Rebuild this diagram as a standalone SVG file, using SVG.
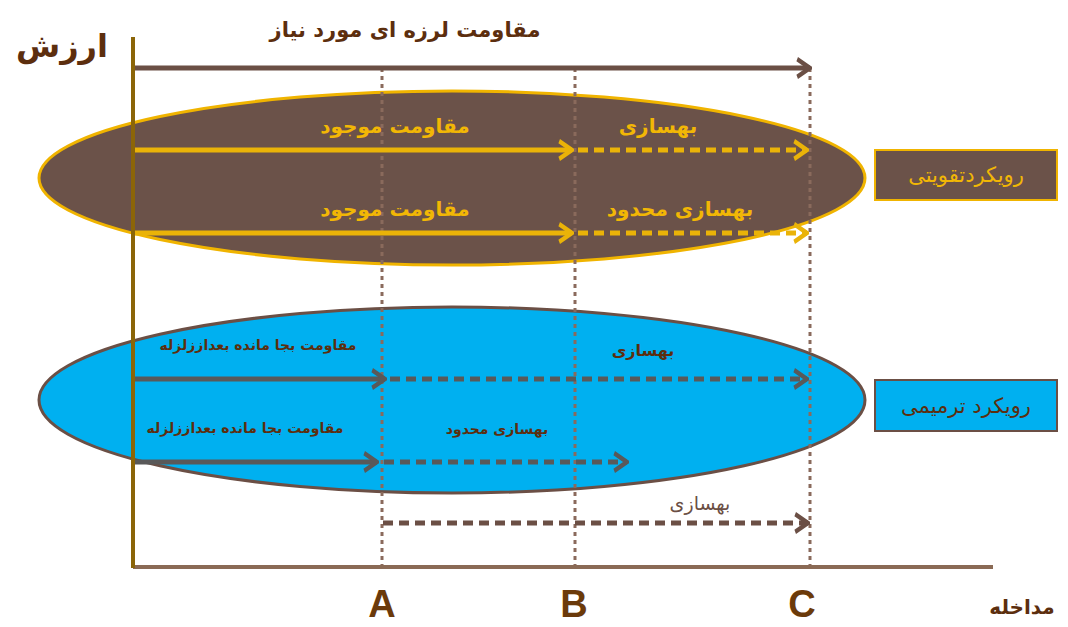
<svg xmlns="http://www.w3.org/2000/svg" width="1068" height="627" viewBox="0 0 1068 627">
<style>
.fa{font-family:"DejaVu Sans","Noto Sans CJK SC",sans-serif;text-anchor:middle}
.b{font-weight:bold}
.gold{fill:#f2b705}
.dk{fill:#5c2e0e}
.grid{stroke:#8a6a5c;stroke-width:3;stroke-dasharray:4 4;fill:none}
.ga{stroke:#eab308;stroke-width:5;fill:none}
.gd{stroke:#eab308;stroke-width:5;fill:none;stroke-dasharray:10 6}
.sa{stroke:#595959;stroke-width:5;fill:none}
.sd{stroke:#595959;stroke-width:5;fill:none;stroke-dasharray:10 6}
.ba{stroke:#6b4f45;stroke-width:5;fill:none}
.bd{stroke:#6b4f45;stroke-width:5;fill:none;stroke-dasharray:10 6}
.lat{font-family:"Liberation Sans",sans-serif;font-weight:bold;font-size:38px;fill:#6b3a0a;text-anchor:middle}
</style>
<defs>
<marker id="mg" viewBox="0 0 10 10" refX="9" refY="5" markerWidth="3.2" markerHeight="4.4" orient="auto" markerUnits="strokeWidth" preserveAspectRatio="none"><path d="M1,1 L9,5 L1,9" fill="none" stroke="#eab308" stroke-width="2.2"/></marker>
<marker id="ms" viewBox="0 0 10 10" refX="9" refY="5" markerWidth="3.2" markerHeight="4.4" orient="auto" markerUnits="strokeWidth" preserveAspectRatio="none"><path d="M1,1 L9,5 L1,9" fill="none" stroke="#595959" stroke-width="2.2"/></marker>
<marker id="mb" viewBox="0 0 10 10" refX="9" refY="5" markerWidth="3.2" markerHeight="4.4" orient="auto" markerUnits="strokeWidth" preserveAspectRatio="none"><path d="M1,1 L9,5 L1,9" fill="none" stroke="#6b4f45" stroke-width="2.2"/></marker>
</defs>

<g id="ellipse-taghviati">
<ellipse cx="452" cy="178" rx="413" ry="87" fill="#6b5249" stroke="#f0b400" stroke-width="3"/>
</g>
<g id="ellipse-tarmimi">
<ellipse cx="452" cy="400" rx="413" ry="93" fill="#00b0f0" stroke="#6b4f45" stroke-width="3"/>
</g>

<g id="grid">
<line class="grid" x1="382" y1="68" x2="382" y2="566"/>
<line class="grid" x1="575" y1="68" x2="575" y2="566"/>
<line class="grid" x1="810" y1="68" x2="810" y2="566"/>
</g>

<g id="axes">
<line x1="133" y1="567" x2="993" y2="567" stroke="#8a6a55" stroke-width="4"/>
<line x1="133" y1="37" x2="133" y2="568" stroke="#8b6508" stroke-width="4"/>
</g>

<g id="connectors">
<line class="ba" x1="135" y1="68" x2="810" y2="68" marker-end="url(#mb)"/>
<line class="ga" x1="135" y1="150" x2="572" y2="150" marker-end="url(#mg)"/>
<line class="gd" x1="578" y1="150" x2="807" y2="150" marker-end="url(#mg)"/>
<line class="ga" x1="135" y1="233" x2="572" y2="233" marker-end="url(#mg)"/>
<line class="gd" x1="578" y1="233" x2="807" y2="233" marker-end="url(#mg)"/>
<line class="sa" x1="135" y1="379" x2="385" y2="379" marker-end="url(#ms)"/>
<line class="sd" x1="390" y1="379" x2="807" y2="379" marker-end="url(#ms)"/>
<line class="sa" x1="135" y1="462" x2="377" y2="462" marker-end="url(#ms)"/>
<line class="sd" x1="384" y1="462" x2="627" y2="462" marker-end="url(#ms)"/>
<line class="bd" x1="383" y1="523" x2="808" y2="523" marker-end="url(#mb)"/>
</g>

<g id="labels">
<text class="fa b dk" x="62" y="57" font-size="32">ارزش</text>
<text class="fa b dk" x="405" y="37" font-size="21">مقاومت لرزه ای مورد نیاز</text>
<text class="fa b dk" x="1022" y="614" font-size="20">مداخله</text>
<text class="lat" x="382" y="617">A</text>
<text class="lat" x="574" y="617">B</text>
<text class="lat" x="802" y="617">C</text>
<text class="fa b gold" x="395" y="133" font-size="20">مقاومت موجود</text>
<text class="fa b gold" x="658" y="133" font-size="20">بهسازی</text>
<text class="fa b gold" x="395" y="216" font-size="20">مقاومت موجود</text>
<text class="fa b gold" x="680" y="216" font-size="20">بهسازی محدود</text>
<text class="fa b dk" x="258" y="350" font-size="14">مقاومت بجا مانده بعداززلزله</text>
<text class="fa b dk" x="643" y="356" font-size="16">بهسازی</text>
<text class="fa b dk" x="245" y="433" font-size="14">مقاومت بجا مانده بعداززلزله</text>
<text class="fa b dk" x="497" y="434" font-size="14">بهسازی محدود</text>
<text class="fa" x="700" y="510" font-size="19" fill="#6b4f45">بهسازی</text>
</g>

<g id="box-taghviati">
<rect x="875" y="150" width="182" height="50" fill="#6b5249" stroke="#f0b400" stroke-width="2"/>
<text class="fa gold" x="966" y="182" font-size="21">رویکردتقویتی</text>
</g>
<g id="box-tarmimi">
<rect x="875" y="380" width="182" height="51" fill="#00b0f0" stroke="#6b4f45" stroke-width="2"/>
<text class="fa dk" x="966" y="413" font-size="21">رویکرد ترمیمی</text>
</g>
</svg>
